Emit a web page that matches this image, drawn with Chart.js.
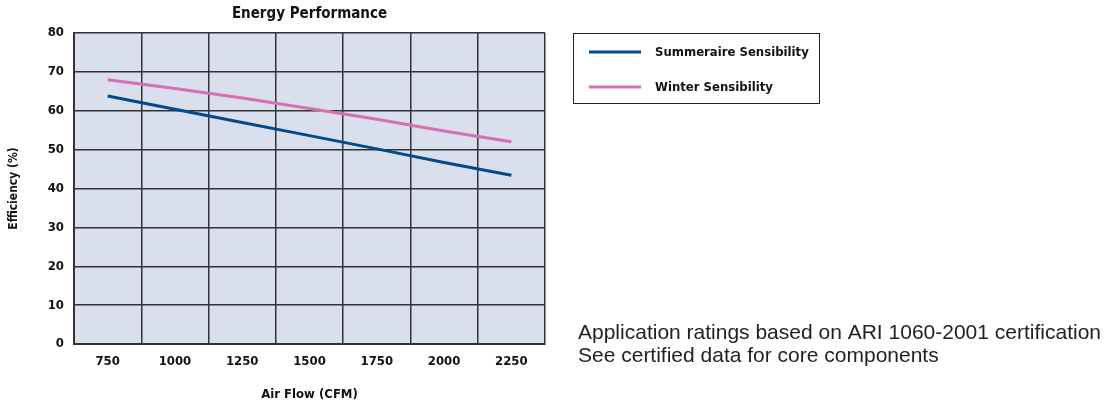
<!DOCTYPE html>
<html>
<head>
<meta charset="utf-8">
<script src="https://cdn.jsdelivr.net/npm/chart.js@4.4.0/dist/chart.umd.min.js"></script>
<style>
  html, body { margin: 0; padding: 0; background: #fff; }
  #wrap { width: 1108px; height: 406px; position: relative; }
</style>
</head>
<body>
<div id="wrap"><canvas id="chart"></canvas></div>
<script>
const airFlow = ['750', '1000', '1250', '1500', '1750', '2000', '2250'];
const summerSensible = [63.8, 60.4, 57.0, 53.6, 50.2, 46.7, 43.4];
const winterSensible = [68.0, 65.7, 63.3, 60.6, 57.8, 54.8, 52.0];
const notes = [
  'Application ratings based on ARI 1060-2001 certification',
  'See certified data for core components'
];

const boldFont = "'Liberation Sans Narrow', 'DejaVu Sans Condensed', 'Arial Narrow', sans-serif";

// plot background + legend box + notes, drawn around the chart area
const extras = {
  id: 'extras',
  beforeDraw(chart) {
    const { ctx, chartArea: a } = chart;
    ctx.save();
    ctx.fillStyle = '#d9dfec';
    ctx.fillRect(a.left, a.top, a.right - a.left, a.bottom - a.top);
    ctx.restore();
  },
  afterDraw(chart) {
    const ctx = chart.ctx;
    ctx.save();
    // legend
    ctx.strokeStyle = '#222';
    ctx.lineWidth = 1;
    ctx.strokeRect(573.5, 33.5, 246, 70);
    ctx.font = 'bold 13px ' + boldFont;
    ctx.textBaseline = 'middle';
    ctx.fillStyle = '#111';
    chart.data.datasets.forEach((ds, i) => {
      const y = 52 + i * 35;
      ctx.strokeStyle = ds.borderColor;
      ctx.lineWidth = 3;
      ctx.beginPath();
      ctx.moveTo(589, y);
      ctx.lineTo(641, y);
      ctx.stroke();
      ctx.fillText(ds.label, 655, y + 1);
    });
    // notes
    ctx.font = '21px "Liberation Sans", Arial, sans-serif';
    ctx.fillStyle = '#222';
    notes.forEach((t, i) => ctx.fillText(t, 578, 333 + i * 23));
    ctx.restore();
  }
};

new Chart(document.getElementById('chart'), {
  type: 'line',
  data: {
    labels: airFlow,
    datasets: [{
      label: 'Summeraire Sensibility',
      data: summerSensible,
      borderColor: '#034a8c',
      borderWidth: 3,
      pointRadius: 0,
      tension: 0
    }, {
      label: 'Winter Sensibility',
      data: winterSensible,
      borderColor: '#d86fb2',
      borderWidth: 3,
      pointRadius: 0,
      tension: 0
    }]
  },
  options: {
    responsive: true,
    maintainAspectRatio: false,
    animation: false,
    layout: { padding: { left: 0, right: 563, top: 0, bottom: 2 } },
    plugins: {
      legend: { display: false },
      tooltip: { enabled: false },
      title: {
        display: true,
        fullSize: false,
        text: 'Energy Performance',
        color: '#111',
        font: { family: boldFont, size: 15, weight: 'bold' },
        padding: { top: 5, bottom: 10 }
      }
    },
    scales: {
      x: {
        offset: true,
        afterFit(scale) { scale.height = 60; },
        grid: { offset: true, color: '#333', lineWidth: 1.5, drawTicks: false },
        border: { color: '#333', width: 2 },
        ticks: { color: '#111', padding: 10, font: { family: boldFont, size: 13, weight: 'bold' } },
        title: {
          display: true,
          text: 'Air Flow (CFM)',
          color: '#111',
          font: { family: boldFont, size: 13, weight: 'bold' },
          padding: { top: 13, bottom: 2 }
        }
      },
      y: {
        min: 0,
        max: 80,
        afterFit(scale) { scale.width = 74; },
        grid: { color: '#333', lineWidth: 1.5, drawTicks: false },
        border: { color: '#333', width: 2 },
        ticks: { stepSize: 10, color: '#111', padding: 10, font: { family: boldFont, size: 13, weight: 'bold' } },
        title: {
          display: true,
          text: 'Efficiency (%)',
          color: '#111',
          font: { family: boldFont, size: 12, weight: 'bold' },
          padding: { top: 7, bottom: 0 }
        }
      }
    }
  },
  plugins: [extras]
});
</script>
</body>
</html>
